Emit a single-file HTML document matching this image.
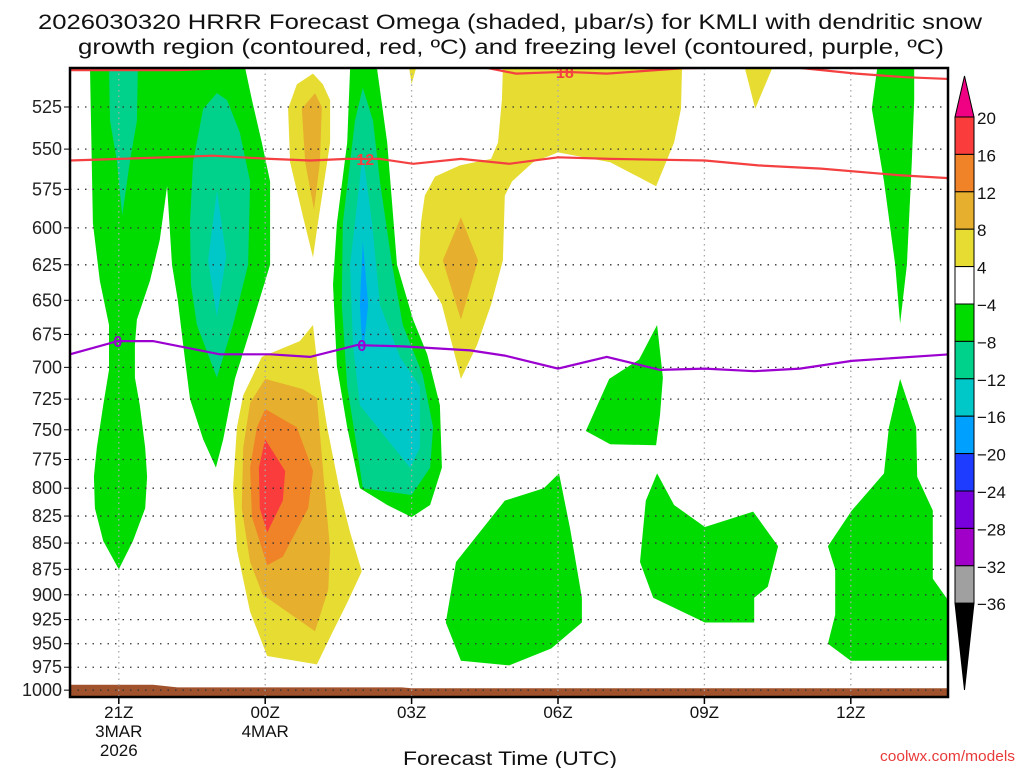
<!DOCTYPE html>
<html><head><meta charset="utf-8">
<style>
html,body{margin:0;padding:0;background:#fff;}
svg{display:block;font-family:"Liberation Sans","DejaVu Sans",sans-serif;}
</style></head>
<body>
<svg id="chart" width="1024" height="768" viewBox="0 0 1024 768">
<defs><clipPath id="plotclip"><rect x="70" y="68" width="878" height="629"/></clipPath></defs>
<text x="38" y="29" textLength="944" lengthAdjust="spacingAndGlyphs" font-size="21" fill="#111">2026030320 HRRR Forecast Omega (shaded, μbar/s) for KMLI with dendritic snow</text>
<text x="78" y="54" textLength="866" lengthAdjust="spacingAndGlyphs" font-size="21" fill="#111">growth region (contoured, red, ºC) and freezing level (contoured, purple, ºC)</text>
<g id="fills" clip-path="url(#plotclip)"></g>
<g id="grid"></g>
<g id="lines" clip-path="url(#plotclip)"></g>
<g id="axes"></g>
<g id="cbar"></g>
<text x="403" y="765" textLength="214" lengthAdjust="spacingAndGlyphs" font-size="19" fill="#111">Forecast Time (UTC)</text>
<text x="880" y="761" textLength="135" lengthAdjust="spacingAndGlyphs" font-size="15" fill="#e83a3a">coolwx.com/models</text>
</svg>
<script>
// hours since 20Z 3 Mar, pressure in hPa (log-pressure axis)
const xTickHours=[1,4,7,10,13,16];
const xTickLabels=["21Z","00Z","03Z","06Z","09Z","12Z"];
const xTickDates=["3MAR","4MAR","","","",""];
const xTickYears=["2026","","","","",""];
const yTicks=[525,550,575,600,625,650,675,700,725,750,775,800,825,850,875,900,925,950,975,1000];
const cbLevels=[20,16,12,8,4,-4,-8,-12,-16,-20,-24,-28,-32,-36];
const cbColors=["#fa3c3c","#f08228","#e6af2d","#e6dc32","#ffffff","#00dc00","#00d28c","#00c8c8","#00a0ff","#1e3cff","#7800dc","#a000c8","#a0a0a0"];
const colG="#00dc00",colG2="#00d28c",colC="#00c8c8",colB="#00a0ff",colY="#e6dc32",colY2="#e6af2d",colO="#f08228",colR="#fa3c3c";
const contourLevels=[colG,colG2,colG2,colC,colY,colY2,colY,colY2,colO,colR,colG,colG2,colC,colB,colY,colY2,colY,colY,colG,colG,colG,colG,colG];
const contours=[
[[.41,503],[.47,597],[.61,636],[.80,668],[.80,702],[.68,730],[.55,765],[.49,790],[.51,818],[.68,848],[1.0,875],[1.29,848],[1.54,818],[1.58,790],[1.54,765],[1.43,730],[1.33,708],[1.33,683],[1.37,664],[1.64,636],[1.84,608],[1.99,573],[2.09,625],[2.21,650],[2.32,683],[2.46,725],[2.73,758],[2.99,782],[3.14,758],[3.38,709],[3.69,672],[4.10,625],[4.10,570],[3.93,546],[3.73,521],[3.59,503]],
[[.80,503],[1.39,503],[1.37,533],[1.23,557],[1.07,592],[.96,557],[.82,533]],
[[3.01,517],[2.73,526],[2.52,558],[2.46,597],[2.48,639],[2.60,668],[3.01,708],[3.34,668],[3.65,625],[3.69,570],[3.48,540],[3.22,521]],
[[3.01,576],[2.83,622],[3.01,662],[3.20,619]],
[[4.98,506],[4.65,512],[4.47,526],[4.51,558],[4.77,592],[4.98,620],[5.08,597],[5.33,546],[5.33,521],[5.18,512]],
[[5.02,517],[4.75,526],[4.82,558],[5.0,588],[5.12,558],[5.16,525]],
[[4.98,668],[4.71,680],[3.93,692],[3.55,722],[3.42,748],[3.34,800],[3.42,856],[3.69,917],[4.04,963],[5.06,972],[5.39,937],[5.68,908],[5.98,877],[5.74,840],[5.53,803],[5.27,748],[5.08,702]],
[[4.0,709],[3.69,728],[3.55,765],[3.52,818],[3.69,868],[3.95,900],[5.02,937],[5.29,895],[5.33,856],[5.18,782],[5.06,724],[4.77,717]],
[[4.0,733],[3.83,748],[3.69,782],[3.73,826],[4.04,871],[4.36,863],[4.88,818],[4.98,785],[4.65,748]],
[[4.0,758],[3.87,782],[3.89,818],[4.04,840],[4.36,811],[4.41,785]],
[[5.74,503],[5.68,546],[5.47,597],[5.39,639],[5.47,699],[5.68,748],[5.94,800],[6.50,815],[7.0,826],[7.38,815],[7.62,782],[7.58,730],[7.32,690],[7.03,664],[6.70,625],[6.60,584],[6.50,546],[6.29,503]],
[[6.0,514],[5.84,533],[5.59,597],[5.57,653],[5.68,715],[5.88,765],[6.0,800],[6.50,803],[7.0,806],[7.38,782],[7.44,748],[7.23,706],[6.82,668],[6.60,625],[6.35,570],[6.21,533]],
[[6.0,553],[5.74,625],[5.80,683],[5.94,730],[6.50,758],[6.97,782],[7.17,765],[7.17,715],[6.76,692],[6.35,653],[6.19,597]],
[[6.0,609],[5.94,653],[6.0,691],[6.11,653]],
[[8.87,503],[12.54,503],[12.52,526],[12.38,546],[12.01,573],[11.07,558],[10.0,552],[9.49,558],[9.06,570],[8.91,579],[8.87,622],[8.63,653],[8.34,683],[8.01,709],[7.62,653],[7.15,625],[7.19,597],[7.27,579],[7.48,567],[7.99,560],[8.63,556],[8.77,546],[8.85,521]],
[[8.01,593],[7.64,622],[8.01,664],[8.36,622]],
[[6.95,503],[7.09,503],[7.0,512]],
[[13.83,503],[14.39,503],[14.04,526]],
[[12.03,668],[12.15,708],[12.09,738],[12.01,763],[11.07,762],[10.57,751],[11.05,709],[11.66,694]],
[[10.02,787],[10.25,837],[10.49,903],[10.49,928],[9.86,955],[9.0,973],[8.01,968],[7.70,928],[7.91,868],[8.91,811],[9.71,800]],
[[12.03,787],[12.38,815],[13.01,835],[14.0,821],[14.51,853],[14.30,892],[14.02,903],[14.02,928],[13.01,928],[11.95,903],[11.68,868],[11.80,811]],
[[17.01,709],[17.34,748],[17.36,790],[17.68,820],[17.68,884],[18.03,908],[18.03,968],[16.0,968],[15.53,950],[15.68,920],[15.68,875],[15.53,853],[16.02,820],[16.68,787],[16.78,748]],
[[16.54,503],[17.30,503],[17.30,521],[17.25,558],[17.15,625],[17.01,667],[16.91,625],[16.68,570],[16.43,526]]
];
const lineMinus18=[[0,504],[2.2,504],[4,502],[8.4,502],[9.14,506],[10.14,505],[11.0,506],[12.54,503],[14.67,502],[16.11,506],[17.11,508],[18.03,509]];
const lineMinus12=[[0,557],[1.02,556],[2.93,554],[4.10,556],[4.92,557],[5.68,556],[6.35,556],[7.03,559],[8.01,556],[9.0,559],[10.0,555],[11.07,556],[13.01,557],[14.10,560],[15.39,562],[16.97,566],[18.03,568]];
const lineZero=[[0,690],[0.98,680],[1.70,680],[3.07,690],[4.10,690],[4.92,692],[5.88,683],[6.82,684],[8.20,687],[8.91,691],[10.0,701],[11.0,692],[12.09,702],[13.01,701],[14.02,703],[14.96,701],[16.02,695],[18.03,690]];
const groundP=[[0,1015],[0,994],[1.7,994],[2.2,997],[6.8,997],[7.0,998],[18.03,998],[18.03,1015]];

const NS="http://www.w3.org/2000/svg";
const X0=70,X1=948,YT=68,YB=697;
function xs(h){return X0+h*48.8;}
function ys(p){return 107+Math.log(p/525)*905;}
function mk(tag,parent,attrs){const e=document.createElementNS(NS,tag);for(const k in attrs)e.setAttribute(k,attrs[k]);parent.appendChild(e);return e;}
function pts(a){return a.map(d=>xs(d[0]).toFixed(1)+","+ys(d[1]).toFixed(1)).join(" ");}

const fills=document.getElementById("fills");
contours.forEach((poly,i)=>{
  const e=mk("polygon",fills,{points:pts(poly),fill:contourLevels[i]});
  
  
});
const g=mk("polygon",fills,{points:pts(groundP),fill:"#a0522d"});



const grid=document.getElementById("grid");
yTicks.forEach(p=>{
  const e=mk("line",grid,{x1:X0,x2:X1,y1:ys(p),y2:ys(p),stroke:"#333","stroke-width":1.3,"stroke-dasharray":"1.5,6"});
  
  
});
xTickHours.forEach(h=>{
  const e=mk("line",grid,{x1:xs(h),x2:xs(h),y1:YT,y2:YB,stroke:"#aaa","stroke-width":1.3,"stroke-dasharray":"1.5,4"});
  
  
});

const lines=document.getElementById("lines");
function drawLine(arr,color,name){
  const e=mk("polyline",lines,{points:pts(arr),fill:"none",stroke:color,"stroke-width":2.2});
  
  
}
drawLine(lineMinus18,"#f44040","dgz-minus18-line");
drawLine(lineMinus12,"#f44040","dgz-minus12-line");
drawLine(lineZero,"#9b00d0","freezing-level-line");
function lbl(txt,h,p,color,name){
  const e=mk("text",lines,{x:xs(h),y:ys(p)+6,"text-anchor":"middle","font-size":16,"font-weight":"bold",fill:color});
  e.textContent=txt;
  
  
}
lbl("18",10.14,505,"#f44040","contour-label-18");
lbl("12",6.05,556,"#f44040","contour-label-12");
lbl("0",0.98,680,"#9b00d0","contour-label-0a");
lbl("0",5.98,683,"#9b00d0","contour-label-0b");

const axes=document.getElementById("axes");
const fr=mk("rect",axes,{x:X0,y:YT,width:X1-X0,height:YB-YT,fill:"none",stroke:"#000","stroke-width":2.5});


yTicks.forEach(p=>{
  const t=mk("line",axes,{x1:X0-6,x2:X0,y1:ys(p),y2:ys(p),stroke:"#000","stroke-width":1});
  
  
  const e=mk("text",axes,{x:X0-8,y:ys(p)+6,"text-anchor":"end","font-size":18,fill:"#222"});
  e.textContent=String(p);
  
  
});
xTickHours.forEach((h,i)=>{
  const t=mk("line",axes,{x1:xs(h),x2:xs(h),y1:YB,y2:YB+7,stroke:"#000","stroke-width":1.5});
  
  
  [xTickLabels[i],xTickDates[i],xTickYears[i]].forEach((s,j)=>{
    if(!s)return;
    const e=mk("text",axes,{x:xs(h),y:718+j*19,"text-anchor":"middle","font-size":17,fill:"#111"});
    e.textContent=s;
    
    
  });
});

const cb=document.getElementById("cbar");
const CX=955,CW=19,CT=117,CH=37.4;
const up=mk("polygon",cb,{points:`${CX},${CT} ${CX+CW},${CT} ${CX+CW/2},76`,fill:"#f00082",stroke:"#000","stroke-width":1});


cbColors.forEach((c,i)=>{
  const r=mk("rect",cb,{x:CX,y:CT+i*CH,width:CW,height:CH,fill:c,stroke:"#000","stroke-width":1});
  
  
});
const yEnd=CT+cbColors.length*CH;
const dn=mk("polygon",cb,{points:`${CX},${yEnd} ${CX+CW},${yEnd} ${CX+CW/2},690`,fill:"#000",stroke:"#000","stroke-width":1});


cbLevels.forEach((v,i)=>{
  const e=mk("text",cb,{x:CX+CW+3,y:CT+i*CH+7,"font-size":17,fill:"#111"});
  e.textContent=v<0?"\u2212"+Math.abs(v):String(v);
  
  
});
</script>
</body></html>
